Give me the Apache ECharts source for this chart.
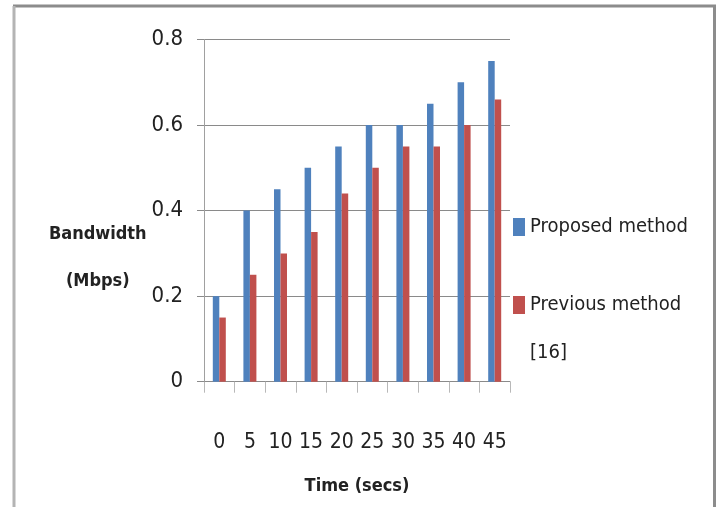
<!DOCTYPE html>
<html>
<head>
<meta charset="utf-8">
<script src="https://cdn.jsdelivr.net/npm/echarts@6/dist/echarts.min.js"></script>
<style>html,body{margin:0;padding:0;background:#fff}#c{width:721px;height:507px}</style>
</head>
<body>
<div id="c"></div>
<script>
const categories = ['0','5','10','15','20','25','30','35','40','45'];
const proposed = [0.2,0.4,0.45,0.5,0.55,0.6,0.6,0.65,0.7,0.75];
const previous = [0.15,0.25,0.3,0.35,0.44,0.5,0.55,0.55,0.6,0.66];
const yTicks = {min:0, max:0.8, interval:0.2};
const FONT = "'Liberation Sans Narrow', 'DejaVu Sans Condensed', 'Arial Narrow', sans-serif";

const chart = echarts.init(document.getElementById('c'), null, {renderer:'canvas'});
chart.setOption({
  animation:false,
  backgroundColor:'#fff',
  grid:{left:204, right:211, top:39.5, bottom:125.3},
  xAxis:{
    type:'category', data:categories,
    axisLine:{show:true, lineStyle:{color:'#8a8a8a', width:1}},
    axisTick:{show:true, length:11, lineStyle:{color:'#b8b8b8'}},
    axisLabel:{interval:0, margin:50, fontFamily:FONT, fontSize:21, color:'#222'},
    name:'Time (secs)', nameLocation:'middle', nameGap:96,
    nameTextStyle:{fontFamily:FONT, fontSize:18, fontWeight:'bold', color:'#222'}
  },
  yAxis:{
    type:'value', min:yTicks.min, max:yTicks.max, interval:yTicks.interval,
    axisLine:{show:true, lineStyle:{color:'#a0a0a0', width:1}},
    axisTick:{show:true, length:7, lineStyle:{color:'#8a8a8a'}},
    splitLine:{show:true, lineStyle:{color:'#8a8a8a', width:1}},
    axisLabel:{margin:21, fontFamily:FONT, fontSize:22, color:'#222',
      formatter:v=>v===0?'0':v.toFixed(1)},
    name:'{s| }\n{a|Bandwidth}\n{a|(Mbps)}', nameLocation:'middle', nameGap:101, nameRotate:0,
    nameTextStyle:{fontFamily:FONT, fontSize:18, fontWeight:'bold', color:'#222',
      align:'center',
      rich:{
        s:{lineHeight:94, fontSize:18},
        a:{lineHeight:47, fontSize:18, fontWeight:'bold', fontFamily:FONT, color:'#222', align:'center'}
      }}
  },
  legend:[
    {left:513, top:213, orient:'vertical', padding:0, itemWidth:12, itemHeight:18,
     icon:'rect', data:['Proposed method'],
     textStyle:{fontFamily:FONT, fontSize:20, color:'#222', lineHeight:28}},
    {left:513, top:247, orient:'vertical', padding:0, itemWidth:12, itemHeight:18,
     icon:'rect',
     data:['Previous method [16]'],
     formatter:n=>'{s| }\n{a|Previous method}\n{a|[16]}',
     textStyle:{fontFamily:FONT, fontSize:20, color:'#222',
       rich:{
         s:{lineHeight:48, fontSize:20},
         a:{lineHeight:48, fontSize:20, fontFamily:FONT, color:'#222'}
       }}}
  ],
  series:[
    {name:'Proposed method', type:'bar', data:proposed, barWidth:6.5, barGap:'0%',
     itemStyle:{color:'#4F81BD'}},
    {name:'Previous method [16]', type:'bar', data:previous, barWidth:6.5,
     itemStyle:{color:'#C0504D'}}
  ],
  graphic:[
    {type:'line', shape:{x1:13,y1:6,x2:716,y2:6}, style:{stroke:'#8c8c8c', lineWidth:3}, silent:true},
    {type:'line', shape:{x1:14,y1:6,x2:14,y2:507}, style:{stroke:'#b4b4b4', lineWidth:3}, silent:true},
    {type:'line', shape:{x1:714.5,y1:6,x2:714.5,y2:507}, style:{stroke:'#8c8c8c', lineWidth:3}, silent:true}
  ]
});
</script>
</body>
</html>
